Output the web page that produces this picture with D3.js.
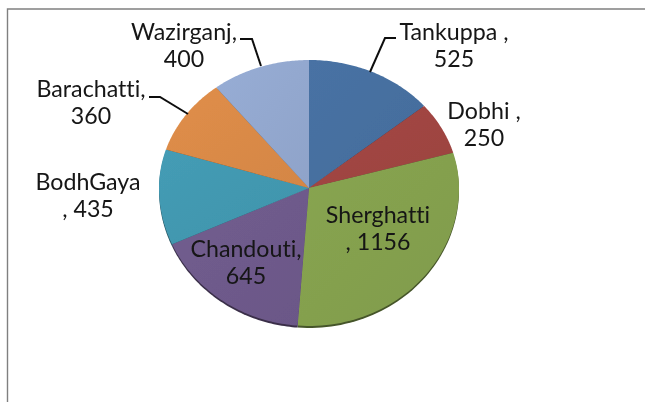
<!DOCTYPE html>
<html>
<head>
<meta charset="utf-8">
<script src="https://cdn.jsdelivr.net/npm/d3@7"></script>
<style>
  html, body { margin: 0; padding: 0; background: #fff; }
  svg { display: block; }
  text { font-family: "Lato", "Open Sans", sans-serif; font-size: 23.2px; fill: #141414; font-variant-ligatures: none; }
</style>
</head>
<body>
<div id="chart"></div>
<script>
// data, clockwise from 12 o'clock
const blocks = ["Tankuppa", "Dobhi", "Sherghatti", "Chandouti", "BodhGaya", "Barachatti", "Wazirganj"];
const values = [525, 250, 1156, 645, 435, 360, 400];
const colors = ["#466f9f", "#a04542", "#84a04e", "#6e5a8b", "#4298b0", "#da8a47", "#93a8cf"];
// two lines of each label, wrapped the way the original wraps them
const labelFirst = ["Tankuppa ,", "Dobhi ,", "Sherghatti", "Chandouti,", "BodhGaya", "Barachatti,", "Wazirganj,"];
const labelSecond = ["525", "250", ", 1156", "645", ", 435", "360", "400"];

const svgWidth = 645;
const svgHeight = 402;

// the pie is tilted, so the apex sits higher than the middle of the outline
const center = { x: 309, y: 188 };
const radiusX = 150;
const radiusTop = 128;
const radiusBottom = 138;

// label anchor spots, same order as blocks
const labelSpots = [
  [454, 40], [484, 119], [378, 223], [246, 257], [88, 190], [91, 97], [184, 40]
];
// leader lines only for the labels outside that need them
const leaders = [
  { i: 0, pts: [[396, 38], [385, 38], [370, 72]] },
  { i: 5, pts: [[149, 97], [160, 97], [188, 114]] },
  { i: 6, pts: [[240, 39], [252, 39], [261, 66]] }
];

const svg = d3.select("#chart")
  .append("svg")
  .attr("width", svgWidth)
  .attr("height", svgHeight)
  .attr("viewBox", `0 0 ${svgWidth} ${svgHeight}`);

// the original is a slightly blurry screenshot
svg.append("defs")
  .append("filter")
  .attr("id", "soft")
  .append("feGaussianBlur")
  .attr("stdDeviation", 0.55);

// frame, only top and left show in the original
svg.append("path")
  .attr("d", d3.line()([[7.5, 402], [7.5, 9], [645, 9]]))
  .attr("fill", "none")
  .attr("stroke", "#808080")
  .attr("stroke-width", 1.4)
  .attr("filter", "url(#soft)");

// point on the tilted outline for an angle measured clockwise from the top
function rim(a, extra = 0) {
  const ry = Math.cos(a) > 0 ? radiusTop : radiusBottom;
  return [center.x + radiusX * Math.sin(a), center.y - ry * Math.cos(a) + extra];
}

function arcPoints(a0, a1, extra) {
  return d3.range(0, 61).map(k => rim(a0 + (a1 - a0) * k / 60, extra));
}

const arcs = d3.pie().sort(null)(values);
const line = d3.line();

const defs = svg.select("defs");
colors.forEach((c, i) => {
  const g = defs.append("linearGradient")
    .attr("id", `shade${i}`)
    .attr("x1", 0).attr("y1", 0).attr("x2", 1).attr("y2", 1);
  g.append("stop").attr("offset", "0%").attr("stop-color", d3.color(c).brighter(0.08));
  g.append("stop").attr("offset", "100%").attr("stop-color", d3.color(c).darker(0.08));
});

const pie = svg.append("g").attr("filter", "url(#soft)");

// dark edge along the underside of the pie
pie.selectAll(".rim")
  .data(arcs)
  .enter()
  .append("path")
  .attr("class", "rim")
  .attr("d", d => line([[center.x, center.y], ...arcPoints(d.startAngle, d.endAngle, 2)]) + "Z")
  .attr("fill", (d, i) => d3.color(colors[i]).darker(1.8));

pie.selectAll(".slice")
  .data(arcs)
  .enter()
  .append("path")
  .attr("class", "slice")
  .attr("d", d => line([[center.x, center.y], ...arcPoints(d.startAngle, d.endAngle, 0)]) + "Z")
  .attr("fill", (d, i) => `url(#shade${i})`);

// leader lines
svg.selectAll(".leader")
  .data(leaders)
  .enter()
  .append("path")
  .attr("class", "leader")
  .attr("d", d => line(d.pts))
  .attr("fill", "none")
  .attr("stroke", "#111")
  .attr("stroke-width", 2)
  .attr("filter", "url(#soft)");

// labels
const labels = svg.selectAll(".label")
  .data(blocks)
  .enter()
  .append("text")
  .attr("class", "label")
  .attr("text-anchor", "middle")
  .attr("filter", "url(#soft)")
  .attr("transform", (d, i) => `translate(${labelSpots[i][0]},${labelSpots[i][1]})`);

labels.append("tspan")
  .attr("x", 0)
  .attr("y", 0)
  .text((d, i) => labelFirst[i]);

labels.append("tspan")
  .attr("x", 0)
  .attr("y", 27)
  .text((d, i) => labelSecond[i]);
</script>
</body>
</html>
